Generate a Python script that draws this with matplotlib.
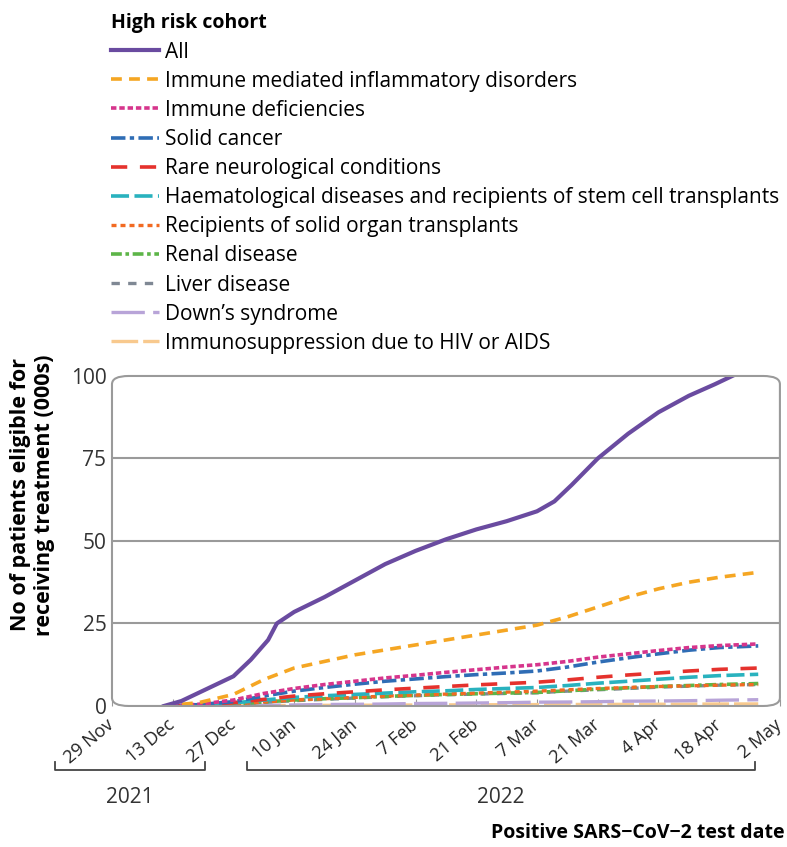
import numpy as np
import matplotlib
matplotlib.use("Agg")
import matplotlib.pyplot as plt
from matplotlib.patches import FancyBboxPatch
from matplotlib.lines import Line2D

plt.rcParams['font.family'] = ['Open Sans', 'DejaVu Sans']

start = np.datetime64('2021-11-29')

# days since 29 Nov 2021
days_all = [12, 16, 20, 24, 28, 32, 36, 38, 42, 49, 56, 63, 70, 77, 84, 91, 98, 102, 106, 112, 119, 126, 133, 139, 143]
all_cohort = [0, 1.5, 4, 6.5, 9, 14, 20, 25, 28.5, 33, 38, 43, 47, 50.5, 53.5, 56, 59, 62, 67, 75, 82.5, 89, 94, 97.5, 100]

days_sub = [12, 20, 28, 35, 42, 49, 56, 63, 70, 77, 84, 91, 98, 105, 112, 119, 126, 133, 140, 149]
imid = [0, 1, 3.5, 8, 11.5, 13.5, 15.5, 17, 18.5, 20, 21.5, 23, 24.5, 27, 30, 33, 35.5, 37.5, 39, 40.5]
immune_def = [0, 0.5, 1.8, 3.8, 5.3, 6.5, 7.5, 8.5, 9.3, 10.2, 11, 11.8, 12.5, 13.5, 14.8, 15.8, 16.8, 17.7, 18.3, 18.8]
solid_cancer = [0, 0.4, 1.3, 3, 4.5, 5.6, 6.6, 7.5, 8.2, 8.9, 9.5, 10, 10.6, 11.8, 13.3, 14.6, 15.8, 16.9, 17.7, 18.2]
rare_neuro = [0, 0.3, 1, 2, 3, 3.7, 4.3, 4.9, 5.4, 5.9, 6.4, 6.8, 7.2, 7.9, 8.7, 9.4, 10, 10.6, 11.1, 11.5]
haemato = [0, 0.3, 0.9, 1.8, 2.6, 3.1, 3.5, 3.9, 4.3, 4.6, 5, 5.3, 5.6, 6.2, 6.9, 7.5, 8.1, 8.7, 9.2, 9.6]
solid_organ = [0, 0.2, 0.6, 1.2, 1.8, 2.2, 2.6, 3, 3.3, 3.6, 3.9, 4.2, 4.5, 4.9, 5.3, 5.6, 5.9, 6.1, 6.3, 6.5]
renal = [0, 0.2, 0.6, 1.2, 1.8, 2.2, 2.5, 2.9, 3.2, 3.5, 3.7, 3.9, 4.1, 4.6, 5.1, 5.5, 5.9, 6.2, 6.5, 6.8]
liver = [0, 0.2, 0.5, 1.1, 1.6, 2, 2.4, 2.8, 3.1, 3.4, 3.6, 3.8, 4.0, 4.5, 4.9, 5.3, 5.7, 6.0, 6.3, 6.5]
downs = [0, 0.05, 0.15, 0.2, 0.3, 0.45, 0.5, 0.6, 0.75, 0.8, 0.9, 1.0, 1.15, 1.2, 1.3, 1.45, 1.5, 1.6, 1.75, 1.9]
hiv = [0, 0.02, 0.05, 0.1, 0.15, 0.2, 0.22, 0.26, 0.3, 0.33, 0.36, 0.4, 0.42, 0.45, 0.48, 0.5, 0.53, 0.56, 0.6, 0.62]

labels = ['All', 'Immune mediated inflammatory disorders', 'Immune deficiencies', 'Solid cancer',
          'Rare neurological conditions', 'Haematological diseases and recipients of stem cell transplants',
          'Recipients of solid organ transplants', 'Renal disease', 'Liver disease', "Down\u2019s syndrome",
          'Immunosuppression due to HIV or AIDS']
tick_labels = ['29 Nov', '13 Dec', '27 Dec', '10 Jan', '24 Jan', '7 Feb', '21 Feb', '7 Mar',
               '21 Mar', '4 Apr', '18 Apr', '2 May']

series = [(days_all, all_cohort), (days_sub, imid), (days_sub, immune_def), (days_sub, solid_cancer),
          (days_sub, rare_neuro), (days_sub, haemato), (days_sub, solid_organ), (days_sub, renal),
          (days_sub, liver), (days_sub, downs), (days_sub, hiv)]

styles = [
    dict(color='#6a4ba0', ls='-', lw=3.0),
    dict(color='#f5a623', ls=(0, (3, 2)), lw=2.6),
    dict(color='#d6358c', ls=(0, (1.5, 0.8)), lw=2.6),
    dict(color='#2f6db5', ls=(0, (4, 1.2, 1.2, 1.2)), lw=2.6),
    dict(color='#e5322d', ls=(0, (4.5, 3.5)), lw=2.6),
    dict(color='#29b2be', ls=(0, (5, 1.5)), lw=2.6),
    dict(color='#f26a22', ls=(0, (1.5, 1.2)), lw=2.4),
    dict(color='#5db548', ls=(0, (3, 1, 1, 1)), lw=2.6),
    dict(color='#7f8894', ls=(0, (2.5, 2.5)), lw=2.4),
    dict(color='#b8a4d8', ls=(0, (10, 2.5)), lw=2.4),
    dict(color='#f8c98e', ls=(0, (8, 1.5)), lw=2.4),
]

fig = plt.figure(figsize=(7.87, 8.47), dpi=100)
ax = fig.add_axes([0.1423, 0.1665, 0.8487, 0.3896])

handles = []
for (d, v), st, lab in reversed(list(zip(series, styles, labels))):
    x = start + np.array(d).astype('timedelta64[D]')
    h, = ax.plot(x.astype('datetime64[D]').astype(object), v, label=lab, **st)
    handles.append(h)
handles = handles[::-1]

ax.set_ylim(0, 100)
ax.set_xlim(start.astype(object), (start + np.timedelta64(154, 'D')).astype(object))
ticks = [(start + np.timedelta64(14 * i, 'D')).astype(object) for i in range(len(tick_labels))]
ax.set_xticks(ticks)
ax.set_xticklabels(tick_labels, rotation=40, ha='right', va='center', rotation_mode='anchor',
                   fontsize=13, color='#222222')
ax.set_yticks([0, 25, 50, 75, 100])
ax.set_yticklabels(['0', '25', '50', '75', '100'], fontsize=15, color='#333333')
ax.tick_params(axis='y', length=0, pad=4)
ax.tick_params(axis='x', direction='in', length=5, color='#999999', pad=12)

for y in [25, 50, 75]:
    ax.axhline(y, color='#9a9a9a', lw=1.5, zorder=0)
for s in ax.spines.values():
    s.set_visible(False)
frame = FancyBboxPatch((0, 0), 1, 1, boxstyle='round,pad=0,rounding_size=0.025',
                       transform=ax.transAxes, fill=False, ec='#9a9a9a', lw=1.5, clip_on=False, zorder=5)
ax.add_patch(frame)

ax.set_ylabel('No of patients eligible for\nreceiving treatment (000s)', fontsize=15.5, fontweight='bold',
              linespacing=1.2)
ax.yaxis.set_label_coords(-0.085, 0.64)

leg = fig.legend(handles=handles, labels=labels, loc='upper left', bbox_to_anchor=(0.13, 0.994),
                 frameon=False, fontsize=15, handlelength=2.3, handletextpad=0.3, labelspacing=0.39,
                 borderaxespad=0, title='High risk cohort', alignment='left')
leg.get_title().set_fontweight('bold')
leg.get_title().set_fontsize(14)

# year brackets
def bracket(x0, x1, y, text):
    fig.add_artist(Line2D([x0, x0, x1, x1], [y + 0.009, y, y, y + 0.009], color='#444444', lw=1.3,
                          transform=fig.transFigure))
    fig.text((x0 + x1) / 2, y - 0.032, text, ha='center', va='center', fontsize=15, color='#333333')

bracket(0.070, 0.260, 0.091, '2021')
bracket(0.314, 0.959, 0.091, '2022')

fig.text(0.997, 0.017, 'Positive SARS\u2212CoV\u22122 test date', ha='right', va='center',
         fontsize=14, fontweight='bold')

fig.savefig('out.png', dpi=100)
